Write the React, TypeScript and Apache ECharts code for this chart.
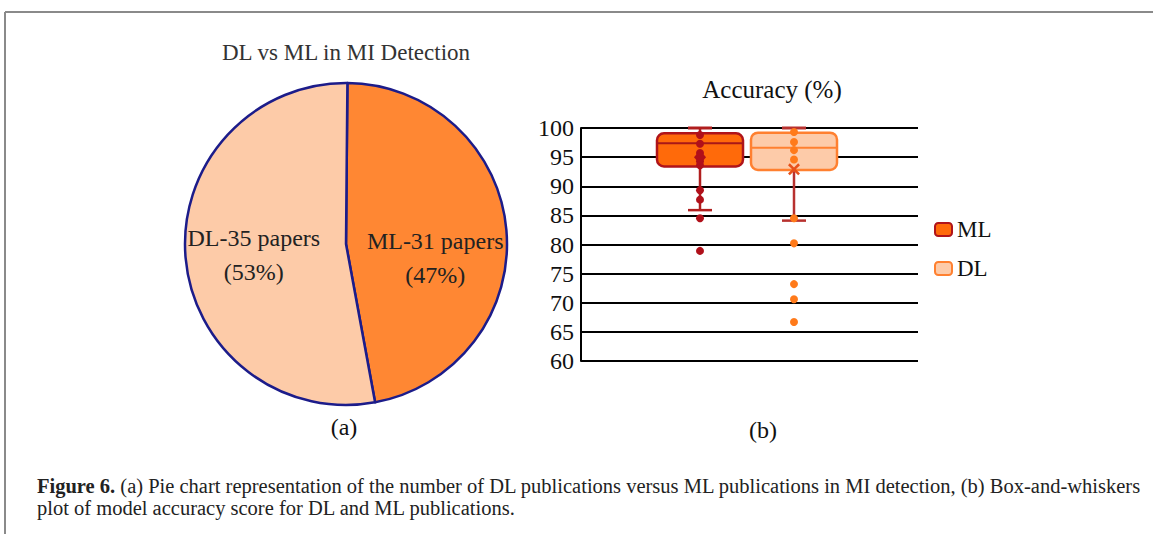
import React, { useEffect, useRef } from "react";
import * as echarts from "echarts";

const pieNames = ["ML", "DL"];
const pieCounts = [31, 35];
const pieLabels = ["ML-31 papers\n(47%)", "DL-35 papers\n(53%)"];

const boxCategories = ["ML", "DL"];
// [low whisker, q1, median, q3, high whisker]
const mlBox = [85.9, 93.4, 97.4, 99.1, 100];
const dlBox = [84.1, 92.8, 96.6, 99.2, 100];
const mlPoints = [98.8, 97.3, 95.7, 94.3, 93.6, 89.3, 87.7, 84.5, 78.9];
const dlPoints = [99.3, 97.6, 96.2, 94.6, 84.5, 80.2, 73.2, 70.6, 66.7];
const mlMean = 95.0;
const dlMean = 92.9;
const yTicks = { min: 60, max: 100, interval: 5 };

const SERIF = "'Liberation Serif', 'DejaVu Serif', serif";

const ML_FILL = "#FF6A0A";
const ML_EDGE = "#B0141A";
const DL_FILL = "#FDCBA9";
const DL_EDGE = "#FF8030";

function boxRender(fill: string, edge: string, medianColor: string, whiskerColor: string) {
  return (params: any, api: any) => {
    const x = api.value(0);
    const low = api.coord([x, api.value(1)]);
    const q1 = api.coord([x, api.value(2)]);
    const med = api.coord([x, api.value(3)]);
    const q3 = api.coord([x, api.value(4)]);
    const high = api.coord([x, api.value(5)]);
    const band = api.size([1, 0])[0];
    const w = band * 0.915;
    const cap = 24;
    const cx = low[0];
    return {
      type: "group",
      children: [
        {
          type: "line",
          shape: { x1: cx, y1: high[1], x2: cx, y2: q3[1] },
          style: { stroke: whiskerColor, lineWidth: 2.5 },
        },
        {
          type: "line",
          shape: { x1: cx, y1: q1[1], x2: cx, y2: low[1] },
          style: { stroke: whiskerColor, lineWidth: 2.5 },
        },
        {
          type: "rect",
          shape: { x: cx - w / 2, y: q3[1], width: w, height: q1[1] - q3[1], r: 7 },
          style: { fill, stroke: edge, lineWidth: 2.5 },
        },
        {
          type: "line",
          shape: { x1: cx - w / 2, y1: med[1], x2: cx + w / 2, y2: med[1] },
          style: { stroke: medianColor, lineWidth: 2 },
        },
        {
          type: "line",
          shape: { x1: cx - cap / 2, y1: high[1], x2: cx + cap / 2, y2: high[1] },
          style: { stroke: whiskerColor, lineWidth: 3 },
        },
        {
          type: "line",
          shape: { x1: cx - cap / 2, y1: low[1], x2: cx + cap / 2, y2: low[1] },
          style: { stroke: whiskerColor, lineWidth: 2.5 },
        },
      ],
    };
  };
}

export default function App() {
  const ref = useRef<HTMLDivElement>(null);
  useEffect(() => {
    document.body.style.margin = "0";
    const chart = echarts.init(ref.current!, null, { renderer: "svg" });
    const yAxisBase = {
      type: "value" as const,
      min: yTicks.min,
      max: yTicks.max,
      interval: yTicks.interval,
    };
    const option: any = {
      animation: false,
      backgroundColor: "#ffffff",
      textStyle: { fontFamily: SERIF },
      title: [
        {
          text: "DL vs ML in MI Detection",
          left: 341,
          top: 36,
          textAlign: "center",
          textStyle: { fontFamily: SERIF, fontSize: 23, fontWeight: "normal", color: "#333" },
        },
        {
          text: "Accuracy (%)",
          left: 767,
          top: 72,
          textAlign: "center",
          textStyle: { fontFamily: SERIF, fontSize: 25, fontWeight: "normal", color: "#111" },
        },
      ],
      legend: {
        orient: "vertical",
        left: 929,
        top: 213,
        itemGap: 16,
        itemWidth: 17,
        itemHeight: 13,
        icon: "roundRect",
        textStyle: { fontFamily: SERIF, fontSize: 23, color: "#111" },
        data: [
          { name: "ML", itemStyle: { color: ML_FILL, borderColor: ML_EDGE, borderWidth: 2 } },
          { name: "DL", itemStyle: { color: DL_FILL, borderColor: DL_EDGE, borderWidth: 2 } },
        ],
      },
      grid: [
        { left: 581, top: 128, width: 337, height: 233 },
        { left: 653, top: 128, width: 188, height: 233 },
      ],
      xAxis: [
        { type: "category", gridIndex: 0, data: [""], show: false },
        { type: "category", gridIndex: 1, data: boxCategories, show: false },
      ],
      yAxis: [
        {
          ...yAxisBase,
          gridIndex: 0,
          axisLine: { show: true, lineStyle: { color: "#000", width: 2 } },
          axisTick: { show: false },
          splitLine: { show: true, lineStyle: { color: "#000", width: 2 } },
          axisLabel: { fontFamily: SERIF, fontSize: 24, color: "#111", margin: 7 },
        },
        { ...yAxisBase, gridIndex: 1, show: false, splitLine: { show: false } },
      ],
      series: [
        {
          type: "pie",
          name: "papers",
          center: [346, 244],
          radius: 161,
          startAngle: 89.5,
          clockwise: true,
          legendHoverLink: false,
          data: pieNames.map((n, i) => ({
            name: n,
            value: pieCounts[i],
            itemStyle: { color: i === 0 ? "#FF8733" : "#FDCBA8" },
            label: { formatter: pieLabels[i] },
          })),
          itemStyle: { borderColor: "#1C1C8A", borderWidth: 2.5 },
          label: {
            show: true,
            position: "inside",
            fontFamily: SERIF,
            fontSize: 24,
            lineHeight: 34,
            color: "#222",
          },
          labelLayout: (p: any) => (p.dataIndex === 0 ? { dx: 6, dy: 21 } : { dx: -9, dy: 4 }),
          emphasis: { disabled: true },
        },
        {
          type: "custom",
          name: "ML",
          xAxisIndex: 1,
          yAxisIndex: 1,
          itemStyle: { color: ML_FILL, borderColor: ML_EDGE },
          renderItem: boxRender(ML_FILL, ML_EDGE, "#A81818", "#B01E1E"),
          data: [[0, ...mlBox]],
          z: 2,
        },
        {
          type: "custom",
          name: "DL",
          xAxisIndex: 1,
          yAxisIndex: 1,
          itemStyle: { color: DL_FILL, borderColor: DL_EDGE },
          renderItem: boxRender(DL_FILL, DL_EDGE, DL_EDGE, "#B8312F"),
          data: [[1, ...dlBox]],
          z: 2,
        },
        {
          type: "scatter",
          name: "ML points",
          xAxisIndex: 1,
          yAxisIndex: 1,
          symbolSize: 8,
          itemStyle: { color: "#B0101A", opacity: 1 },
          data: mlPoints.map((v) => ["ML", v]),
          z: 3,
        },
        {
          type: "scatter",
          name: "ML mean",
          xAxisIndex: 1,
          yAxisIndex: 1,
          symbol: "diamond",
          symbolSize: [12, 14],
          itemStyle: { color: "#B0101A", opacity: 1 },
          data: [["ML", mlMean]],
          z: 3,
        },
        {
          type: "scatter",
          name: "DL points",
          xAxisIndex: 1,
          yAxisIndex: 1,
          symbolSize: 8,
          itemStyle: { color: "#FF7A1A", opacity: 1 },
          data: dlPoints.map((v) => ["DL", v]),
          z: 3,
        },
        {
          type: "scatter",
          name: "DL mean",
          xAxisIndex: 1,
          yAxisIndex: 1,
          symbol:
            "path://M0,1.5L1.5,0L5,3.5L8.5,0L10,1.5L6.5,5L10,8.5L8.5,10L5,6.5L1.5,10L0,8.5L3.5,5Z",
          symbolSize: 12,
          itemStyle: { color: "#E8501A", opacity: 1 },
          data: [["DL", dlMean]],
          z: 4,
        },
      ],
      graphic: [
        {
          type: "line",
          shape: { x1: 5, y1: 12, x2: 1153, y2: 12 },
          style: { stroke: "#8a8a8a", lineWidth: 2 },
        },
        {
          type: "line",
          shape: { x1: 5, y1: 12, x2: 5, y2: 534 },
          style: { stroke: "#8a8a8a", lineWidth: 2 },
        },
        {
          type: "text",
          x: 344,
          y: 427,
          style: {
            text: "(a)",
            font: `24px ${SERIF}`,
            fill: "#111",
            align: "center",
            verticalAlign: "middle",
          },
        },
        {
          type: "text",
          x: 763,
          y: 430,
          style: {
            text: "(b)",
            font: `24px ${SERIF}`,
            fill: "#111",
            align: "center",
            verticalAlign: "middle",
          },
        },
        {
          type: "text",
          x: 37,
          y: 486,
          style: {
            text:
              "{b|Figure 6.} (a) Pie chart representation of the number of DL publications versus ML publications in MI detection, (b) Box-and-whiskers",
            fontFamily: SERIF,
            fontSize: 20.5,
            fill: "#222",
            verticalAlign: "middle",
            rich: { b: { fontFamily: SERIF, fontSize: 20.5, fontWeight: "bold", fill: "#222" } },
          },
        },
        {
          type: "text",
          x: 37,
          y: 508,
          style: {
            text: "plot of model accuracy score for DL and ML publications.",
            fontFamily: SERIF,
            fontSize: 20.5,
            fill: "#222",
            verticalAlign: "middle",
          },
        },
      ],
    };
    chart.setOption(option);
    return () => chart.dispose();
  }, []);
  return <div ref={ref} style={{ width: 1153, height: 534 }} />;
}
